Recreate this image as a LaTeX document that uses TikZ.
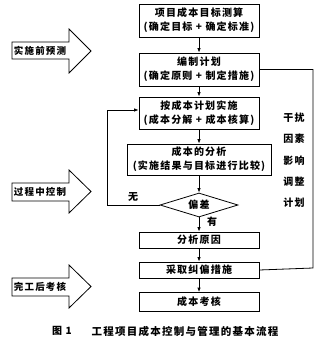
\documentclass[tikz,border=0pt]{standalone}
\usepackage{fontspec}
\usetikzlibrary{shapes.geometric,arrows.meta}
\newfontfamily\cjk{Noto Sans CJK SC}[LetterSpace=12]
\begin{document}
\begin{tikzpicture}[x=1pt,y=-1pt,
  every node/.style={inner sep=0pt},
  box/.style={draw,line width=0.8pt,minimum width=120pt,align=center,
    font=\cjk\bfseries\fontsize{10}{14}\selectfont},
  lbl/.style={font=\cjk\bfseries\fontsize{10}{14}\selectfont},
  bigarrow/.style={draw,line width=0.8pt,fill=white},
  flow/.style={line width=0.8pt,-{Latex[length=4.5pt,width=3.5pt]}},
  loop/.style={line width=0.8pt}]
\useasboundingbox[fill=white] (0,0) rectangle (319,344);

% left big arrows
\draw[bigarrow] (12,42) -- (69,42) -- (69,29) -- (91,51) -- (69,73) -- (69,59) -- (12,59) -- cycle;
\node[font=\cjk\bfseries\fontsize{9.5}{11}\selectfont] (a1) at (40,51) {实施前预测};
\draw[bigarrow] (12,183) -- (69,183) -- (69,170) -- (91,191.5) -- (69,213) -- (69,201) -- (12,201) -- cycle;
\node[font=\cjk\bfseries\fontsize{9.5}{11}\selectfont] (a2) at (40,192) {过程中控制};
\draw[bigarrow] (12,278) -- (69,278) -- (69,265) -- (91,286.5) -- (69,308) -- (69,296) -- (12,296) -- cycle;
\node[font=\cjk\bfseries\fontsize{9.5}{11}\selectfont] (a3) at (40,287) {完工后考核};

% flow boxes
\node[box,minimum height=33pt] (b1) at (199,20.5) {项目成本目标测算\\(确定目标 + 确定标准)};
\node[box,minimum height=33pt] (b2) at (199,69.5) {编制计划\\(确定原则 + 制定措施)};
\node[box,minimum height=32pt] (b3) at (199,113) {按成本计划实施\\(成本分解 + 成本核算)};
\node[box,minimum width=144pt,minimum height=31pt] (b4) at (199,159.5) {成本的分析\\(实施结果与目标进行比较)};
\node[draw,line width=0.8pt,shape=diamond,aspect=3.25,minimum width=78pt,minimum height=24pt,
  font=\cjk\bfseries\fontsize{10}{12}\selectfont] (d) at (199,205) {偏差};
\node[box,minimum height=16pt] (b5) at (199,240) {分析原因};
\node[box,minimum height=16pt] (b6) at (199,270) {采取纠偏措施};
\node[box,minimum height=19pt] (b7) at (199,302) {成本考核};

\draw[flow] (b1) -- (b2);
\draw[flow] (b2) -- (b3);
\draw[flow] (b3) -- (b4);
\draw[flow] (b4) -- (d);
\draw[flow] (d) -- (b5);
\draw[flow] (b5) -- (b6);
\draw[flow] (b6) -- (b7);

% feedback loop (no deviation)
\coordinate (fl1) at (107,205);
\coordinate (fl2) at (107,110);
\coordinate (fl3) at (b3.west |- fl2);
\draw[flow] (d.west) -- (fl1) -- (fl2) -- (fl3);
\node[lbl] (wu) at (133,197) {无};
\node[lbl] (you) at (212,222) {有};

% right adjustment loop
\coordinate (r1) at (313,69.5);
\coordinate (r2) at (313,268);
\draw[loop] (b2.east) -- (r1) -- (r2) -- (b6.east);
\node[lbl,align=center,font=\cjk\bfseries\fontsize{10}{21.3}\selectfont] (vt) at (294,160.5) {干扰\\因素\\影响\\调整\\计划};

% caption
\node[font=\cjk\bfseries\fontsize{10}{12}\selectfont] (c1) at (62,331) {图 1};
\node[font=\cjk\bfseries\fontsize{10.5}{12}\selectfont] (c2) at (185,331) {工程项目成本控制与管理的基本流程};
\end{tikzpicture}
\end{document}
